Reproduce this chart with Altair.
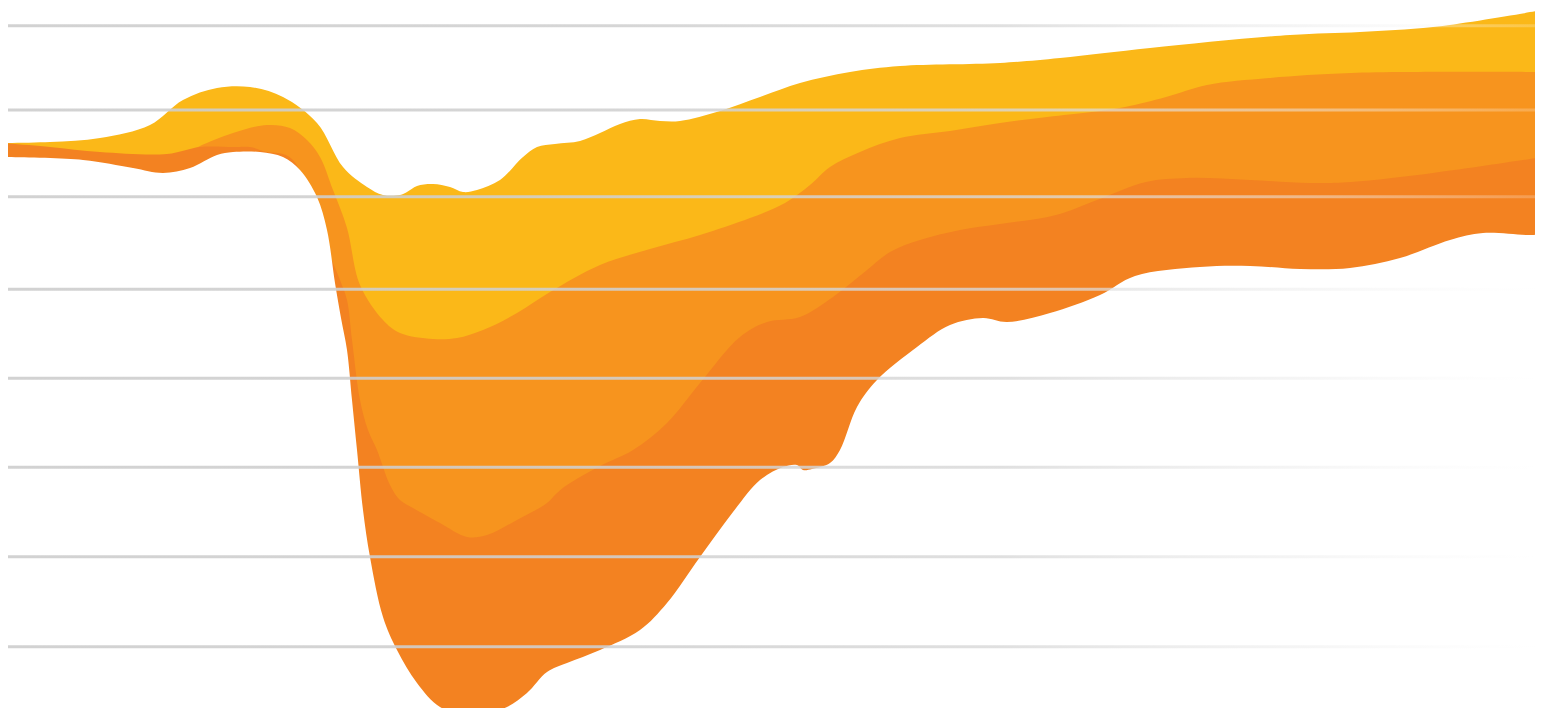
import altair as alt
import pandas as pd

# ---- data (page-pixel coordinates) ----
yellow_x = [0, 50, 100, 150, 183, 217, 250, 283, 317, 343, 367, 383, 400, 407, 417, 433, 450, 463, 477, 500, 523, 537, 555, 580, 600, 620, 640, 660, 680, 720, 760, 800, 850, 900, 1000, 1060, 1150, 1290, 1360, 1433, 1543]
yellow_y = [143, 142, 138, 125, 100, 88, 87, 97, 123, 167, 187, 195, 195, 192, 186, 184, 187, 192, 190, 180, 157, 147, 144, 141, 133, 124, 119, 121, 121, 111, 97, 83, 72, 66, 63, 58, 48, 35, 32, 27, 10]

light_x = [0, 150, 190, 200, 233, 267, 290, 307, 320, 333, 347, 360, 383, 400, 433, 457, 483, 517, 550, 600, 650, 700, 750, 785, 810, 830, 860, 900, 950, 1000, 1064, 1100, 1125, 1166, 1207, 1269, 1351, 1543]
light_y = [150, 157, 151, 146, 133, 125, 128, 140, 157, 190, 228, 285, 320, 333, 339, 338, 330, 313, 292, 265, 249, 235, 218, 203, 185, 167, 152, 138, 131, 123, 115, 111, 107, 97, 85, 78, 73, 72]

dark_x = [0, 50, 100, 167, 200, 233, 250, 267, 283, 293, 303, 313, 327, 340, 347, 352, 360, 368, 377, 390, 400, 413, 440, 467, 487, 517, 547, 557, 567, 600, 633, 667, 700, 740, 767, 800, 833, 867, 890, 920, 960, 1000, 1056, 1097, 1146, 1187, 1250, 1310, 1351, 1433, 1543]
dark_y = [143, 147, 152, 154, 147, 147, 147, 152, 154, 160, 178, 205, 248, 280, 300, 340, 400, 430, 450, 485, 500, 508, 523, 537, 535, 520, 503, 493, 485, 466, 450, 423, 383, 337, 322, 317, 297, 270, 252, 240, 230, 224, 215, 200, 182, 178, 180, 183, 182, 173, 157]

bottom_x = [0, 83, 133, 163, 190, 217, 233, 260, 283, 300, 317, 327, 335, 341, 347, 352, 357, 363, 370, 383, 397, 417, 440, 467, 490, 507, 527, 547, 567, 600, 640, 667, 700, 733, 760, 783, 797, 803, 812, 830, 840, 857, 877, 917, 950, 983, 1007, 1050, 1100, 1135, 1200, 1250, 1300, 1350, 1400, 1450, 1483, 1533, 1543]
bottom_y = [157, 160, 168, 173, 168, 155, 152, 152, 157, 170, 197, 230, 283, 318, 350, 400, 450, 510, 557, 617, 650, 683, 707, 715, 712, 707, 693, 672, 663, 650, 630, 603, 557, 512, 480, 467, 465, 470, 469, 463, 450, 407, 380, 347, 325, 318, 322, 313, 295, 276, 267, 266, 269, 268, 258, 240, 233, 235, 233]

grid_centers = [25.7, 110, 196.7, 289.3, 378.3, 467.3, 556.7, 646.7]

COL_YELLOW = "#FBB818"
COL_LIGHT = "#F7941E"
COL_DARK = "#F38221"

# ---- scales mapping page pixels onto the plot area ----
x_scale = alt.Scale(domain=[8, 1535], nice=False, zero=False)
y_scale = alt.Scale(domain=[8, 708], reverse=True, nice=False, zero=False)


def area_layer(xs, ys, color):
    df = pd.DataFrame({"x": xs, "y": ys})
    return alt.Chart(df).mark_area(color=color, interpolate="catmull-rom", clip=True).encode(
        x=alt.X("x:Q", scale=x_scale, axis=None),
        y=alt.Y("y:Q", scale=y_scale, axis=None),
        y2=alt.datum(780),
    )


yellow = area_layer(yellow_x, yellow_y, COL_YELLOW)
light = area_layer(light_x, light_y, COL_LIGHT)
dark = area_layer(dark_x, dark_y, COL_DARK)
cover = area_layer(bottom_x, bottom_y, "#FFFFFF")

grid_df = pd.DataFrame({
    "x0": [0] * len(grid_centers),
    "x1": [1543] * len(grid_centers),
    "top": [c - 1.5 for c in grid_centers],
    "bot": [c + 1.5 for c in grid_centers],
})

grad = {
    "gradient": "linear",
    "x1": 0, "x2": 1, "y1": 0, "y2": 0,
    "stops": [
        {"offset": 0, "color": "rgba(205,205,205,0.9)"},
        {"offset": 0.4, "color": "rgba(208,208,208,0.88)"},
        {"offset": 0.65, "color": "rgba(216,216,216,0.8)"},
        {"offset": 0.85, "color": "rgba(236,236,236,0.5)"},
        {"offset": 1, "color": "rgba(255,255,255,0.2)"},
    ],
}

grid = alt.Chart(grid_df).mark_rect(fill=grad, cornerRadius=1.5, clip=True).encode(
    x=alt.X("x0:Q", scale=x_scale, axis=None),
    x2="x1:Q",
    y=alt.Y("top:Q", scale=y_scale, axis=None),
    y2="bot:Q",
)

chart = (
    alt.layer(yellow, light, dark, cover, grid)
    .properties(width=1527, height=700, padding=0, background="white")
    .configure_view(stroke=None)
)

chart.save("out.html", embed_options={"renderer": "svg", "actions": False})
